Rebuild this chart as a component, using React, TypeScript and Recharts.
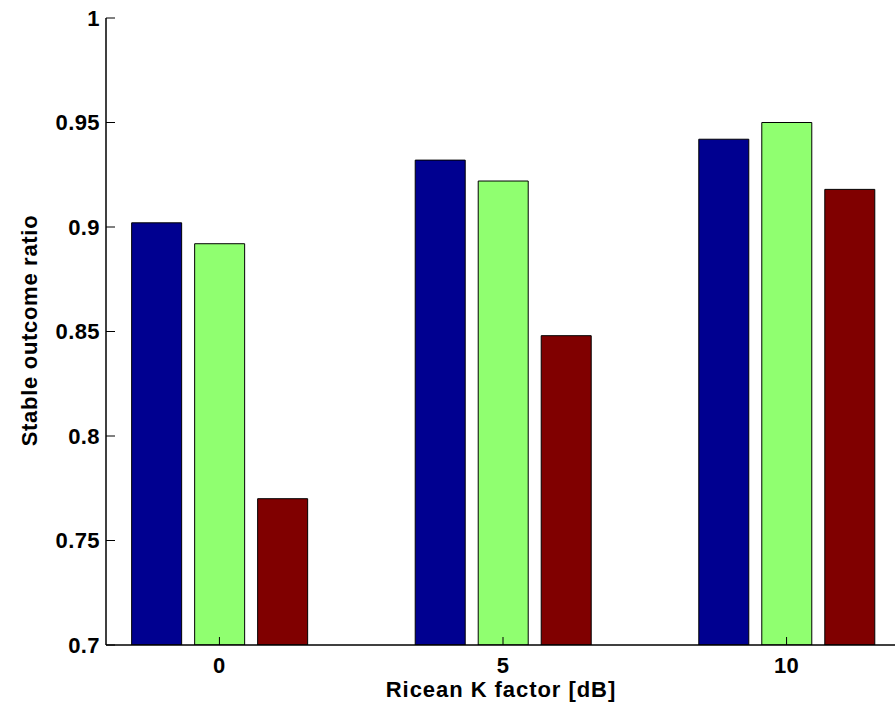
import React from 'react';
import { BarChart, Bar, XAxis, YAxis, Label } from 'recharts';

// Ricean K factor groups on the horizontal axis
const kFactors = [0, 5, 10];
// Stable outcome ratio of the three compared schemes
const schemeA = [0.902, 0.932, 0.942];
const schemeB = [0.892, 0.922, 0.95];
const schemeC = [0.77, 0.848, 0.918];
// Axis ticks
const xTicks = [0, 5, 10];
const yTicks = [0.7, 0.75, 0.8, 0.85, 0.9, 0.95, 1];

const data = kFactors.map((k, i) => ({ k, a: schemeA[i], b: schemeB[i], c: schemeC[i] }));

const FONT = '"Liberation Sans", Arial, Helvetica, sans-serif';
const TICK_FONT = { fontFamily: FONT, fontSize: 22, fontWeight: 700, fill: '#000', letterSpacing: 0.4 };

const YTitle = (props: any) => {
  const vb = props.viewBox || { x: 0, y: 18, width: 106, height: 627 };
  const cx = 37;
  const cy = vb.y + vb.height / 2 - 1;
  return (
    <text
      x={cx}
      y={cy}
      transform={`rotate(-90, ${cx}, ${cy})`}
      textAnchor="middle"
      fontFamily={FONT}
      fontSize={22}
      fontWeight={700}
      letterSpacing={0.7}
      fill="#000"
    >
      Stable outcome ratio
    </text>
  );
};

const XTitle = (props: any) => {
  const vb = props.viewBox || { x: 106, y: 645, width: 794, height: 58 };
  const cx = vb.x + vb.width / 2 - 2;
  return (
    <text x={cx} y={697} textAnchor="middle" fontFamily={FONT} fontSize={22} fontWeight={700} letterSpacing={0.95} fill="#000">
      Ricean K factor [dB]
    </text>
  );
};

export default function App() {
  return (
    <div style={{ position: 'absolute', left: 0, top: 0, width: 895, height: 703, overflow: 'hidden', background: '#fff' }}>
      <BarChart
        width={906}
        height={703}
        data={data}
        margin={{ top: 18, right: 0, bottom: 0, left: 0 }}
        barGap={13}
      >
        <XAxis
          xAxisId="bottom"
          dataKey="k"
          type="number"
          domain={[-2, 12]}
          ticks={xTicks}
          orientation="bottom"
          height={58}
          axisLine={{ stroke: '#000', strokeWidth: 1.5 }}
          tickLine={{ stroke: '#000' }}
          tickSize={-8}
          tickMargin={20}
          tick={TICK_FONT}
          allowDataOverflow
        >
          <Label content={<XTitle />} />
        </XAxis>
        <XAxis
          xAxisId="top"
          dataKey="k"
          type="number"
          domain={[-2, 12]}
          ticks={xTicks}
          orientation="top"
          height={0}
          axisLine={{ stroke: '#000', strokeWidth: 1.5 }}
          tickLine={{ stroke: '#000' }}
          tickSize={-8}
          tick={false}
          allowDataOverflow
        />
        <YAxis
          yAxisId="left"
          type="number"
          domain={[0.7, 1]}
          ticks={yTicks}
          orientation="left"
          width={106}
          axisLine={{ stroke: '#000', strokeWidth: 1.5 }}
          tickLine={{ stroke: '#000' }}
          tickSize={-9}
          tickMargin={15}
          tick={TICK_FONT}
          allowDataOverflow
        >
          <Label content={<YTitle />} />
        </YAxis>
        <YAxis
          yAxisId="right"
          type="number"
          domain={[0.7, 1]}
          ticks={yTicks}
          orientation="right"
          width={6}
          axisLine={{ stroke: '#000', strokeWidth: 1.5 }}
          tickLine={{ stroke: '#000' }}
          tickSize={-8}
          tick={false}
          allowDataOverflow
        />
        <Bar dataKey="a" xAxisId="bottom" yAxisId="left" fill="#000090" stroke="#000" strokeWidth={1} barSize={50} isAnimationActive={false} />
        <Bar dataKey="b" xAxisId="bottom" yAxisId="left" fill="#90FF70" stroke="#000" strokeWidth={1} barSize={50} isAnimationActive={false} />
        <Bar dataKey="c" xAxisId="bottom" yAxisId="left" fill="#800000" stroke="#000" strokeWidth={1} barSize={50} isAnimationActive={false} />
      </BarChart>
    </div>
  );
}
